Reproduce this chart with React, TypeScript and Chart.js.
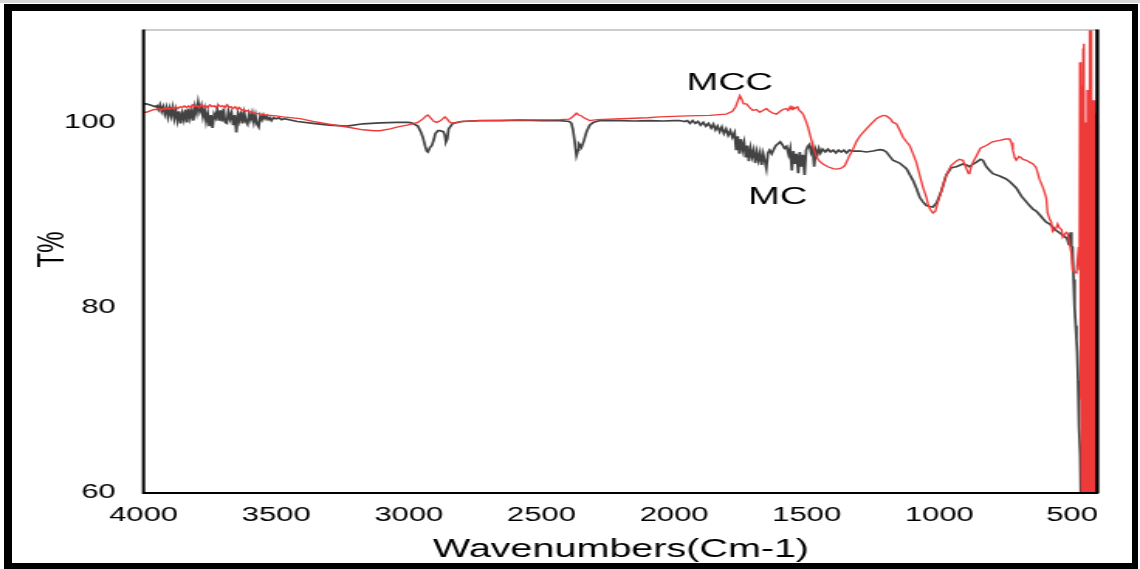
import React, { useEffect, useRef } from 'react';
import { Chart, registerables } from 'chart.js';

Chart.register(...registerables);

// Axis ticks
const xTickValues = [4000, 3500, 3000, 2500, 2000, 1500, 1000, 500];
const yTickValues = [60, 80, 100];

const seriesNames = ['MC', 'MCC'];

// MC spectrum: [wavenumber (cm-1), transmittance (%)]
const mcSpectrum: [number, number][] = [
  [4000, 102.0], [3990, 102.0], [3978, 101.9], [3966, 101.8], [3956, 101.7],
  [3950, 101.8], [3944, 101.4], [3938, 101.9], [3932, 101.2], [3926, 101.7], [3920, 100.9],
  [3914, 101.6], [3908, 100.6], [3902, 101.5], [3896, 100.7], [3890, 101.6], [3884, 100.4],
  [3878, 101.3], [3872, 100.2], [3866, 101.2], [3860, 99.9], [3854, 101.0], [3848, 100.3],
  [3842, 101.4], [3836, 100.0], [3830, 101.5], [3824, 100.5], [3818, 101.3], [3812, 100.2],
  [3806, 101.7], [3800, 101.0], [3794, 102.2], [3788, 101.2], [3782, 101.8], [3776, 100.6],
  [3770, 101.4], [3764, 100.1], [3758, 101.0], [3752, 99.6], [3746, 100.8], [3740, 99.4],
  [3734, 100.9], [3728, 100.5], [3722, 101.4], [3716, 100.2], [3710, 101.3], [3704, 100.1],
  [3698, 101.5], [3692, 100.0], [3686, 99.9], [3680, 101.2], [3674, 100.4], [3668, 101.0],
  [3662, 99.7], [3656, 100.8], [3650, 98.9], [3644, 100.9], [3638, 100.2], [3632, 101.2],
  [3626, 99.9], [3620, 101.0], [3614, 100.1], [3608, 99.8], [3602, 100.9], [3596, 100.3],
  [3590, 101.0], [3584, 100.0], [3578, 100.8], [3572, 99.8], [3566, 99.5], [3560, 100.7],
  [3554, 100.3], [3548, 100.8], [3542, 100.4], [3536, 100.7], [3530, 100.3], [3524, 100.5],
  [3518, 100.2], [3510, 100.5], [3500, 100.4], [3490, 100.5], [3480, 100.3], [3470, 100.4],
  [3420, 100.1], [3361, 99.9], [3300, 99.7], [3233, 99.6], [3173, 99.85], [3109, 99.95],
  [3045, 100.0], [3000, 100.0], [2985, 99.9], [2966, 99.6], [2955, 99.0], [2947, 98.4],
  [2938, 97.4], [2932, 96.9], [2928, 96.8], [2920, 97.3], [2913, 97.5], [2905, 98.2],
  [2900, 98.8], [2890, 99.1], [2883, 99.1], [2870, 99.0], [2864, 98.6], [2860, 97.9],
  [2855, 98.2], [2850, 99.3], [2845, 99.5], [2834, 99.9], [2800, 100.1], [2732, 100.2],
  [2650, 100.2], [2581, 100.25], [2500, 100.2], [2431, 100.2], [2395, 100.1], [2387, 99.9],
  [2381, 99.2], [2375, 98.0], [2368, 96.4], [2362, 97.0], [2359, 97.7], [2353, 97.5],
  [2349, 97.3], [2340, 98.0], [2330, 99.0], [2318, 99.7], [2305, 100.0], [2280, 100.2],
  [2205, 100.2], [2150, 100.15], [2092, 100.2], [2040, 100.15], [2000, 100.2],
  [1980, 100.2], [1960, 100.1], [1950, 100.2], [1940, 99.9], [1930, 100.2], [1920, 99.9],
  [1910, 100.1], [1900, 99.7], [1890, 100.0], [1880, 99.6], [1870, 99.9], [1860, 99.4],
  [1852, 99.8], [1844, 99.2], [1836, 99.6], [1828, 99.0], [1820, 99.5], [1812, 98.8],
  [1804, 99.3], [1796, 98.6], [1788, 99.1], [1780, 98.4], [1772, 98.9], [1766, 97.0],
  [1760, 98.5], [1754, 96.6], [1748, 98.2], [1742, 97.0], [1736, 97.8], [1730, 96.2],
  [1724, 97.5], [1718, 95.8], [1712, 97.2], [1706, 96.3], [1700, 97.0], [1694, 95.6],
  [1688, 96.8], [1682, 95.9], [1676, 96.7], [1670, 95.4], [1664, 96.6], [1658, 95.8],
  [1652, 95.0], [1646, 96.7], [1640, 97.0], [1632, 96.6], [1624, 97.1], [1616, 97.5],
  [1608, 97.7], [1600, 97.9], [1592, 97.6], [1584, 97.2], [1576, 97.4], [1568, 96.5],
  [1562, 97.2], [1556, 94.8], [1550, 96.9], [1544, 95.5], [1538, 96.6], [1532, 94.5],
  [1526, 96.8], [1520, 95.2], [1514, 96.5], [1508, 94.3], [1502, 97.0], [1496, 97.4],
  [1490, 97.6], [1484, 96.8], [1478, 97.4], [1472, 95.2], [1466, 97.0], [1460, 96.5],
  [1454, 97.2], [1448, 96.7], [1440, 97.1], [1430, 96.8], [1420, 97.1], [1410, 96.8],
  [1400, 97.0], [1390, 96.7], [1380, 97.0], [1370, 96.8], [1360, 97.0], [1350, 96.7],
  [1339, 97.0], [1327, 96.9], [1300, 96.9], [1275, 96.8], [1250, 96.9], [1225, 97.05],
  [1212, 97.0], [1200, 96.8], [1175, 95.9], [1150, 95.6], [1124, 95.0], [1099, 93.7],
  [1087, 92.9], [1074, 91.9], [1062, 91.4], [1049, 91.0], [1036, 90.9], [1024, 90.85],
  [1010, 91.3], [1000, 92.0], [992, 92.6], [974, 94.3], [955, 95.1], [936, 95.2],
  [911, 95.5], [898, 95.4], [886, 95.2], [873, 95.5], [860, 95.7], [845, 96.0],
  [836, 95.9], [823, 95.2], [810, 94.8], [798, 94.45], [773, 94.2], [750, 93.9],
  [735, 93.6], [710, 92.9], [690, 92.0], [672, 91.4], [660, 91.0], [647, 90.6],
  [635, 90.4], [622, 90.0], [610, 89.6], [597, 89.2], [584, 89.0], [570, 88.6],
  [559, 88.3], [545, 88.0], [535, 87.8], [521, 87.5], [517, 87.3], [512, 86.8],
  [508, 87.6], [505, 88.1], [502, 86.6], [498, 86.5], [494, 83.0], [490, 80.0],
  [486, 78.0], [483, 76.5], [480, 75.0], [477, 72.0], [475, 69.5], [472, 67.0],
  [469, 64.0], [466, 58.0], [464, 64.5], [462, 57.0], [460, 64.0], [458, 55.0],
  [456, 63.5], [454, 56.0], [452, 62.0], [450, 54.0], [448, 61.0], [446, 55.0],
  [444, 65.0], [442, 54.0], [440, 64.0], [438, 52.0], [436, 58.0], [434, 50.0],
  [430, 48.0], [420, 45.0], [410, 45.0], [400, 45.0],
];

// MCC spectrum: [wavenumber (cm-1), transmittance (%)]
const mccSpectrum: [number, number][] = [
  [4000, 101.1], [3990, 101.1], [3980, 101.2], [3970, 101.3], [3960, 101.4],
  [3950, 101.4], [3942, 101.5], [3934, 101.3], [3926, 101.5], [3918, 101.4], [3910, 101.6],
  [3902, 101.4], [3894, 101.6], [3886, 101.5], [3878, 101.7], [3870, 101.5], [3862, 101.7],
  [3854, 101.6], [3846, 101.8], [3838, 101.6], [3830, 101.8], [3822, 101.6], [3814, 101.9],
  [3806, 101.7], [3798, 101.8], [3790, 101.6], [3782, 101.9], [3774, 101.7], [3766, 101.8],
  [3758, 101.6], [3750, 101.9], [3742, 101.7], [3734, 101.8], [3726, 101.6], [3718, 101.9],
  [3710, 101.7], [3702, 101.8], [3694, 101.6], [3686, 101.9], [3678, 101.6], [3670, 101.7],
  [3662, 101.5], [3654, 101.7], [3646, 101.4], [3638, 101.6], [3630, 101.3], [3622, 101.4],
  [3614, 101.2], [3606, 101.3], [3598, 101.1], [3580, 101.0], [3560, 100.9], [3540, 100.8],
  [3520, 100.75], [3500, 100.7], [3474, 100.6], [3410, 100.4], [3361, 100.1], [3300, 99.8],
  [3233, 99.5], [3173, 99.2], [3130, 99.1], [3109, 99.1], [3070, 99.3], [3045, 99.5],
  [3007, 99.7], [2985, 99.85], [2966, 100.0], [2945, 100.4], [2935, 100.7], [2928, 100.8],
  [2918, 100.5], [2905, 100.1], [2894, 100.0], [2880, 100.2], [2864, 100.6], [2857, 100.4],
  [2845, 100.0], [2834, 99.9], [2800, 100.1], [2732, 100.2], [2600, 100.25], [2431, 100.3],
  [2395, 100.35], [2387, 100.5], [2375, 100.8], [2368, 101.0], [2359, 100.8], [2349, 100.7],
  [2340, 100.5], [2318, 100.2], [2290, 100.3], [2200, 100.4], [2100, 100.5], [2054, 100.6],
  [1950, 100.7], [1866, 100.76], [1803, 100.9], [1780, 101.2], [1768, 101.7], [1760, 102.3],
  [1752, 102.9], [1745, 102.5], [1738, 102.0], [1727, 102.0], [1715, 101.6], [1703, 101.3],
  [1690, 101.4], [1677, 101.1], [1665, 101.3], [1652, 101.5], [1640, 101.2], [1627, 101.0],
  [1614, 100.9], [1600, 101.2], [1590, 101.4], [1577, 101.5], [1570, 101.3], [1562, 101.7],
  [1556, 101.4], [1552, 101.65], [1545, 101.5], [1535, 101.7], [1528, 101.3], [1520, 101.1],
  [1514, 100.9], [1505, 100.3], [1495, 99.5], [1485, 98.4], [1476, 97.3], [1463, 96.25],
  [1452, 95.8], [1439, 95.5], [1420, 95.2], [1401, 95.0], [1385, 94.95], [1370, 95.05],
  [1357, 95.3], [1345, 96.0], [1339, 96.4], [1327, 97.0], [1313, 97.9], [1300, 98.5],
  [1275, 99.3], [1255, 99.9], [1237, 100.4], [1225, 100.6], [1212, 100.76], [1200, 100.7],
  [1185, 100.4], [1175, 100.0], [1162, 99.86], [1150, 99.2], [1137, 98.4], [1124, 97.9],
  [1112, 97.5], [1099, 96.6], [1087, 95.7], [1074, 94.3], [1062, 93.0], [1049, 91.9],
  [1043, 91.2], [1035, 90.6], [1024, 90.2], [1015, 90.4], [1005, 91.4], [992, 92.6],
  [980, 93.8], [974, 94.3], [955, 95.35], [936, 95.8], [925, 96.0], [911, 95.9],
  [905, 95.5], [898, 95.0], [890, 94.45], [886, 94.5], [880, 95.2], [873, 95.7],
  [860, 96.4], [845, 97.2], [823, 97.5], [800, 97.9], [773, 98.05], [750, 98.2],
  [735, 98.2], [728, 97.8], [723, 97.0], [716, 96.2], [710, 95.9], [700, 96.3],
  [692, 96.2], [685, 96.0], [672, 95.9], [660, 95.7], [647, 95.5], [635, 95.1],
  [622, 93.8], [610, 93.0], [603, 92.4], [597, 91.8], [592, 90.2], [585, 89.6],
  [578, 89.2], [573, 88.2], [565, 88.4], [559, 88.6], [554, 89.0], [548, 88.6],
  [539, 88.4], [535, 87.6], [528, 87.9], [521, 88.1], [517, 88.0], [510, 87.0],
  [502, 85.8], [498, 84.0], [490, 83.8], [483, 83.7], [478, 85.5], [475, 86.5],
  [472, 84.0], [470, 106.5], [468, 70.0], [466, 106.0], [464, 62.0], [462, 104.0],
  [460, 55.0], [458, 108.0], [456, 60.0], [454, 108.5], [452, 52.0], [450, 100.0],
  [448, 55.0], [446, 98.0], [444, 50.0], [442, 103.5], [440, 52.0], [438, 100.0],
  [436, 50.0], [434, 112.0], [432, 48.0], [430, 112.0], [428, 50.0], [426, 110.0],
  [424, 48.0], [422, 102.4], [420, 50.0], [418, 102.4], [416, 48.0], [414, 102.0],
  [412, 50.0], [410, 101.0], [408, 50.0], [406, 100.0], [404, 50.0], [402, 98.0],
  [400, 50.0],
];

// Curve labels placed in data coordinates
const curveLabels = [
  { text: 'MCC', wavenumber: 1790, transmittance: 104.2 },
  { text: 'MC', wavenumber: 1609, transmittance: 91.95 },
];

const yAxisTitle = 'T%';
const xAxisTitle = 'Wavenumbers(Cm-1)';

const FONT = "'Liberation Sans', Arial, sans-serif";
const CANVAS_W = 736;
const CANVAS_H = 569;

const decorPlugin = {
  id: 'spectrumDecor',
  afterDraw(chart: any) {
    const { ctx, chartArea, scales } = chart;
    const { left, right, top, bottom } = chartArea;
    ctx.save();
    // plot frame: thin grey top, heavy black left/bottom/right
    ctx.strokeStyle = '#9a9a9a';
    ctx.lineWidth = 1;
    ctx.beginPath();
    ctx.moveTo(left, top);
    ctx.lineTo(right, top);
    ctx.stroke();
    ctx.strokeStyle = '#000';
    ctx.lineWidth = 2;
    ctx.beginPath();
    ctx.moveTo(left, top - 0.5);
    ctx.lineTo(left, bottom + 1);
    ctx.lineTo(right, bottom + 1);
    ctx.stroke();
    ctx.lineWidth = 2.4;
    ctx.beginPath();
    ctx.moveTo(right - 0.8, top - 0.5);
    ctx.lineTo(right - 0.8, bottom + 1);
    ctx.stroke();

    // curve labels
    ctx.fillStyle = '#000';
    ctx.font = `24.5px ${FONT}`;
    ctx.textAlign = 'center';
    ctx.textBaseline = 'middle';
    for (const l of curveLabels) {
      ctx.fillText(
        l.text,
        scales.x.getPixelForValue(l.wavenumber),
        scales.y.getPixelForValue(l.transmittance)
      );
    }

    // y axis title
    ctx.font = `24px ${FONT}`;
    ctx.translate(34.8, 249.5);
    ctx.rotate(-Math.PI / 2);
    ctx.fillText(yAxisTitle, 0, 0);
    ctx.restore();
  },
};

export default function App() {
  const canvasRef = useRef<HTMLCanvasElement | null>(null);

  useEffect(() => {
    const canvas = canvasRef.current;
    if (!canvas) return;
    const toPoints = (s: [number, number][]) => s.map(([x, y]) => ({ x, y }));

    const chart = new Chart(canvas, {
      type: 'line',
      data: {
        datasets: [
          {
            label: seriesNames[0],
            data: toPoints(mcSpectrum),
            borderColor: '#434343',
            borderWidth: 1.7,
            pointRadius: 0,
            tension: 0,
            clip: 0,
            order: 1,
          },
          {
            label: seriesNames[1],
            data: toPoints(mccSpectrum),
            borderColor: '#ef3a3a',
            borderWidth: 1.35,
            pointRadius: 0,
            tension: 0,
            clip: 0,
            order: 0,
          },
        ],
      },
      options: {
        responsive: false,
        maintainAspectRatio: false,
        animation: false,
        devicePixelRatio: 1,
        layout: { padding: { top: 29.5, right: 26.8, bottom: 0, left: 0 } },
        plugins: { legend: { display: false }, tooltip: { enabled: false } },
        scales: {
          x: {
            type: 'linear',
            min: 400,
            max: 4000,
            reverse: true,
            grid: { display: false, drawTicks: false, tickLength: 0 },
            border: { display: false },
            ticks: {
              autoSkip: false,
              maxRotation: 0,
              padding: 11.5,
              color: '#000',
              font: { family: FONT, size: 20 },
              callback: (v: any) => String(v),
            },
            title: {
              display: true,
              text: xAxisTitle,
              color: '#000',
              font: { family: FONT, size: 25.5 },
              padding: { top: 0, bottom: 4 },
            },
            afterBuildTicks: (scale: any) => {
              scale.ticks = xTickValues.map((value) => ({ value }));
            },
            afterFit: (scale: any) => {
              scale.height = CANVAS_H - 492;
            },
          },
          y: {
            type: 'linear',
            min: 60,
            max: 110,
            grid: { display: false, drawTicks: false, tickLength: 0 },
            border: { display: false },
            ticks: {
              padding: 18,
              color: '#000',
              font: { family: FONT, size: 20 },
              callback: (v: any) => String(v),
            },
            afterBuildTicks: (scale: any) => {
              scale.ticks = yTickValues.map((value) => ({ value }));
            },
            afterFit: (scale: any) => {
              scale.width = 92.65;
            },
          },
        },
      },
      plugins: [decorPlugin],
    });

    return () => chart.destroy();
  }, []);

  return (
    <div
      style={{
        position: 'absolute',
        left: 0,
        top: 0,
        width: 1140,
        height: 569,
        background: '#fff',
        overflow: 'hidden',
      }}
    >
      <div style={{ position: 'absolute', left: 0, top: 0, width: 1140, height: 3, background: '#d6d6d6' }} />
      <canvas
        ref={canvasRef}
        width={CANVAS_W}
        height={CANVAS_H}
        style={{ position: 'absolute', left: 0, top: 0, width: '1140px', height: '569px' }}
      />
      <div
        style={{
          position: 'absolute',
          left: 4,
          top: 4,
          width: 1134,
          height: 565,
          boxSizing: 'border-box',
          borderStyle: 'solid',
          borderColor: '#000',
          borderWidth: '7px 6px 6px 8px',
          pointerEvents: 'none',
        }}
      />
    </div>
  );
}
